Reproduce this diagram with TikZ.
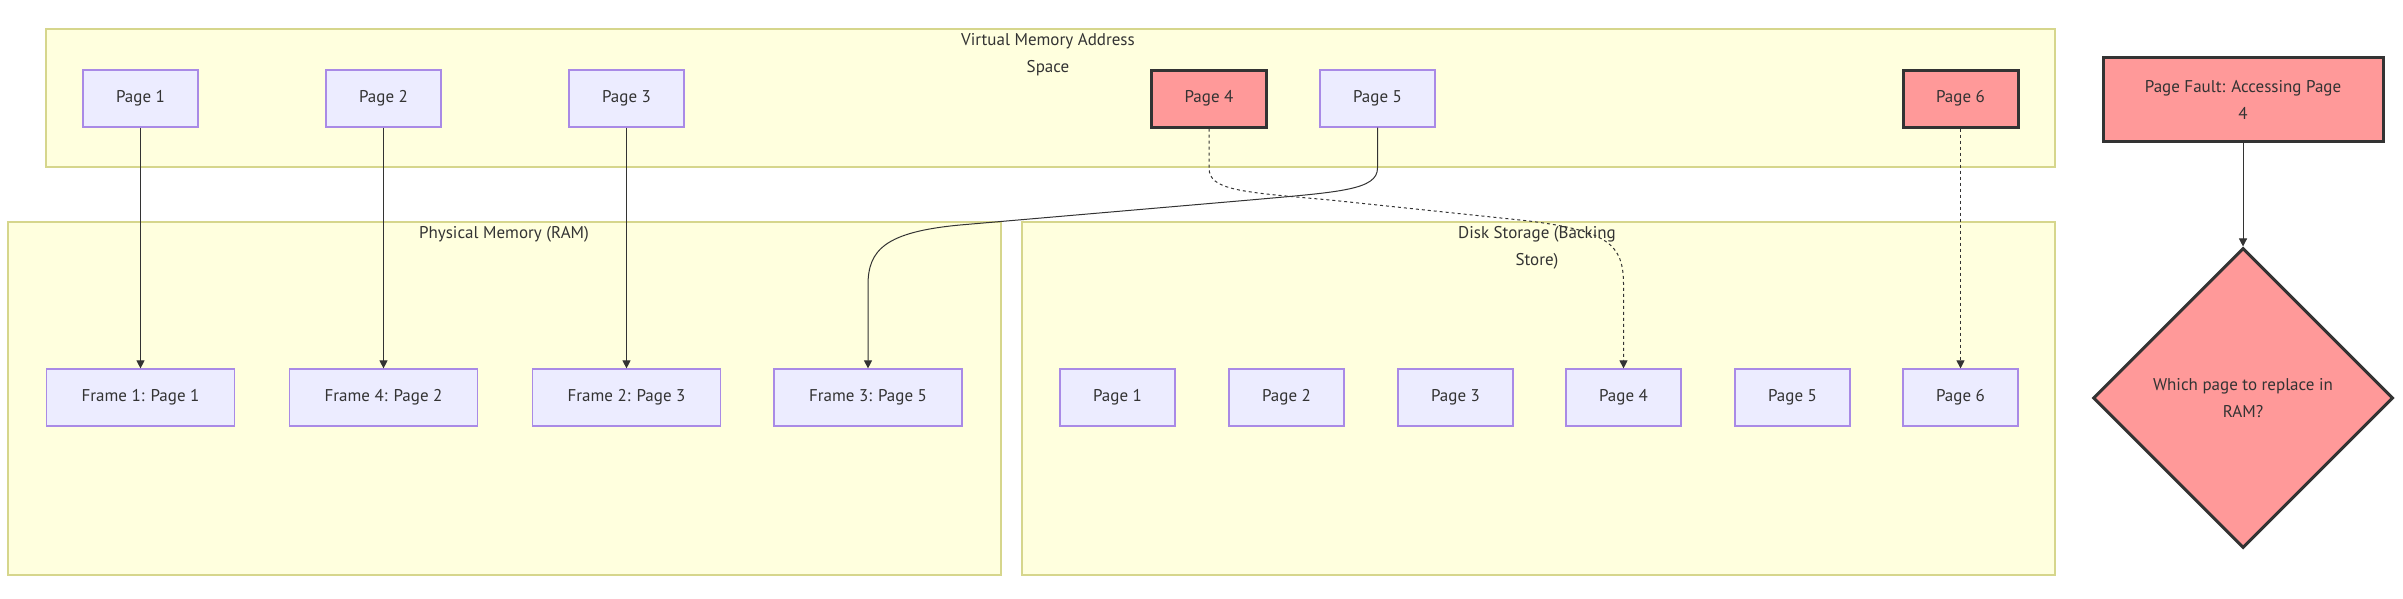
\documentclass[tikz,border=0pt]{standalone}
\usepackage{fontspec}
\setmainfont{PT Sans}
\usetikzlibrary{shapes.geometric,arrows.meta}

\begin{document}
\begin{tikzpicture}[x=1pt,y=-1pt,
    font=\fontsize{17}{27}\selectfont,
    cluster/.style={draw=clusterline, fill=clusterfill, line width=2pt},
    pagebox/.style={draw=nodeline, fill=nodefill, line width=1.2pt, text=textgray,
        minimum width=115pt, minimum height=57pt, inner sep=0pt},
    framebox/.style={pagebox, minimum width=188pt},
    hotbox/.style={draw=textgray, fill=hotfill, line width=3pt, text=textgray,
        minimum width=115pt, minimum height=57pt, inner sep=0pt, align=center},
    title/.style={text=textgray, align=center, inner sep=0pt},
    link/.style={draw=textgray, line width=1pt, -{Triangle[length=8pt,width=8pt]}},
    slowlink/.style={link, dash pattern=on 3pt off 3pt}]
    % Define colors
    \definecolor{clusterfill}{HTML}{FFFFDE}
    \definecolor{clusterline}{HTML}{D6D68C}
    \definecolor{nodefill}{HTML}{ECECFF}
    \definecolor{nodeline}{HTML}{A98AE6}
    \definecolor{hotfill}{HTML}{FF9999}
    \definecolor{textgray}{HTML}{333333}

    \useasboundingbox (0,0) rectangle (2403,598);

    % Draw the three groups
    \draw[cluster] (46,29) rectangle (2055,167);
    \draw[cluster] (8,222) rectangle (1001,575);
    \draw[cluster] (1022,222) rectangle (2055,575);
    \node[title] (vtitle) at (1048,55) {Virtual Memory Address\\Space};
    \node[title] (ptitle) at (504,234) {Physical Memory (RAM)};
    \node[title] (dtitle) at (1537,248) {Disk Storage (Backing\\Store)};

    % Virtual pages
    \node[pagebox] (v1) at (140.5,98.5) {Page 1};
    \node[pagebox] (v2) at (383.5,98.5) {Page 2};
    \node[pagebox] (v3) at (626.5,98.5) {Page 3};
    \node[hotbox] (v4) at (1209,98.5) {Page 4};
    \node[pagebox] (v5) at (1377.5,98.5) {Page 5};
    \node[hotbox] (v6) at (1960.5,98.5) {Page 6};

    % Frames in RAM
    \node[framebox] (f1) at (140.5,397.5) {Frame 1: Page 1};
    \node[framebox] (f4) at (383.5,397.5) {Frame 4: Page 2};
    \node[framebox] (f2) at (626.5,397.5) {Frame 2: Page 3};
    \node[framebox] (f3) at (868,397.5) {Frame 3: Page 5};

    % Pages on disk
    \node[pagebox] (d1) at (1117.5,397.5) {Page 1};
    \node[pagebox] (d2) at (1286.5,397.5) {Page 2};
    \node[pagebox] (d3) at (1455.5,397.5) {Page 3};
    \node[pagebox] (d4) at (1623.5,397.5) {Page 4};
    \node[pagebox] (d5) at (1792.5,397.5) {Page 5};
    \node[pagebox] (d6) at (1960.5,397.5) {Page 6};

    % Fault and decision
    \node[hotbox, minimum width=280pt, minimum height=84pt] (fault) at (2243,99.5)
        {Page Fault: Accessing Page\\4};
    \node[hotbox, diamond, aspect=1, minimum width=300pt, minimum height=300pt]
        (decide) at (2243,398) {Which page to replace in\\RAM?};

    % Mappings
    \draw[link] (v1) -- (f1);
    \draw[link] (v2) -- (f4);
    \draw[link] (v3) -- (f2);
    \draw[link] (v5.south) -- (1377.5,168) .. controls (1377.5,190) and (1340,192) .. (1250,200)
        -- (960,225) .. controls (885,232) and (868,250) .. (868,285) -- (f3.north);
    \draw[slowlink] (v4.south) -- (1209,168) .. controls (1209,190) and (1240,192) .. (1330,200)
        -- (1520,220) .. controls (1610,230) and (1623.5,245) .. (1623.5,285) -- (d4.north);
    \draw[slowlink] (v6) -- (d6);
    \draw[link] (fault) -- (decide);
\end{tikzpicture}
\end{document}
